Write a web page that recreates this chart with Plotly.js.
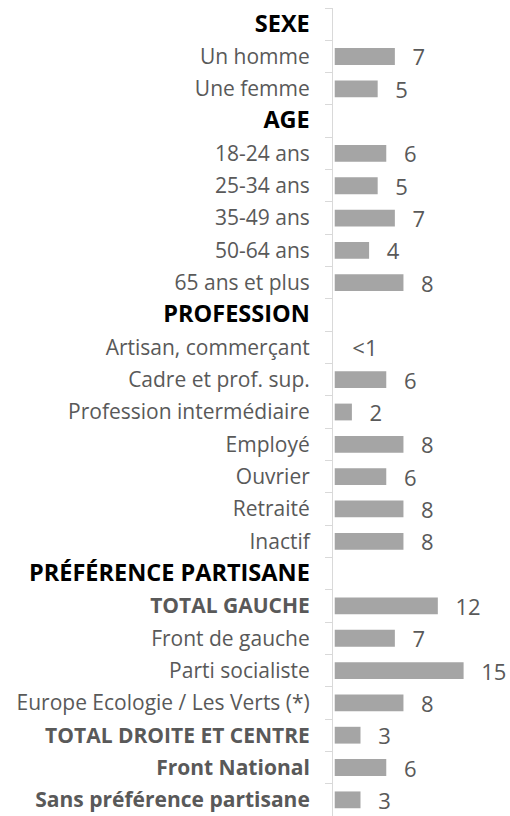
<!DOCTYPE html>
<html>
<head>
<meta charset="utf-8">
<script src="https://cdn.plot.ly/plotly-3.0.1.min.js"></script>
<style>
  html, body { margin: 0; padding: 0; background: #fff; }
  #chart { width: 510px; height: 816px; }
</style>
</head>
<body>
<div id="chart"></div>
<script>
// rows, top to bottom; headings have no value
var categories = [
    "SEXE", "Un homme", "Une femme",
    "AGE", "18-24 ans", "25-34 ans", "35-49 ans", "50-64 ans", "65 ans et plus",
    "PROFESSION", "Artisan, commerçant", "Cadre et prof. sup.", "Profession intermédiaire",
    "Employé", "Ouvrier", "Retraité", "Inactif",
    "PRÉFÉRENCE PARTISANE", "TOTAL GAUCHE", "Front de gauche", "Parti socialiste",
    "Europe Ecologie / Les Verts (*)", "TOTAL DROITE ET CENTRE", "Front National",
    "Sans préférence partisane"
];
var values = [
    null, 7, 5,
    null, 6, 5, 7, 4, 8,
    null, 0, 6, 2, 8, 6, 8, 8,
    null, 12, 7, 15, 8, 3, 6, 3
];
var valueLabels = [
    "", "7", "5",
    "", "6", "5", "7", "4", "8",
    "", "<1", "6", "2", "8", "6", "8", "8",
    "", "12", "7", "15", "8", "3", "6", "3"
];
var headings = ["SEXE", "AGE", "PROFESSION", "PRÉFÉRENCE PARTISANE"];
var boldRows = ["TOTAL GAUCHE", "TOTAL DROITE ET CENTRE", "Front National", "Sans préférence partisane"];

var tickText = categories.map(function (c) {
    if (headings.indexOf(c) >= 0) {
        return "<b><span style='font-size:23.5px;fill:#000000'>" + c + "</span></b>";
    }
    if (boldRows.indexOf(c) >= 0) {
        return "<b>" + c + "</b>";
    }
    return c;
});

var data = [{
    type: "bar",
    orientation: "h",
    y: categories,
    x: values,
    // en space + thin space to push the labels off the bar ends
    text: valueLabels.map(function (t) { return t ? "\u2002\u2009" + t : ""; }),
    textposition: "outside",
    constraintext: "none",
    cliponaxis: false,
    textfont: { family: "Open Sans", size: 22, color: "#595959" },
    marker: { color: "#a5a5a5" },
    hoverinfo: "none"
}];

var layout = {
    width: 510,
    height: 816,
    margin: { l: 333, r: 0, t: 8, b: 0 },
    paper_bgcolor: "#ffffff",
    plot_bgcolor: "#ffffff",
    showlegend: false,
    bargap: 0.48,
    font: { family: "Open Sans", color: "#595959" },
    xaxis: {
        range: [-0.2, 20.4],
        showticklabels: false,
        showgrid: false,
        zeroline: false,
        showline: false,
        ticks: ""
    },
    yaxis: {
        type: "category",
        range: [24.5, -0.5],
        tickmode: "array",
        tickvals: categories,
        ticktext: tickText,
        tickson: "boundaries",
        ticks: "outside",
        ticklen: 7,
        tickcolor: "#d9d9d9",
        ticklabelstandoff: 18,
        tickfont: { family: "Open Sans", size: 21, color: "#595959" },
        showline: true,
        linecolor: "#d9d9d9",
        linewidth: 1,
        showgrid: false,
        zeroline: false,
        automargin: false
    }
};

Plotly.newPlot("chart", data, layout, { staticPlot: true });
</script>
</body>
</html>
